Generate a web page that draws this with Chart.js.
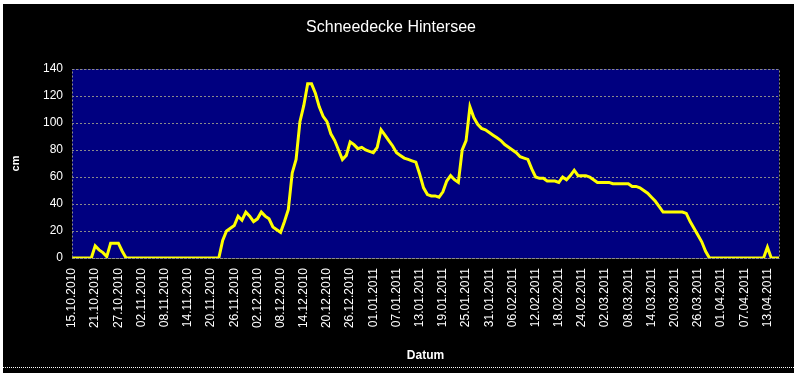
<!DOCTYPE html>
<html>
<head>
<meta charset="utf-8">
<script src="https://cdn.jsdelivr.net/npm/chart.js@4/dist/chart.umd.min.js"></script>
<style>
  html, body { margin: 0; padding: 0; background: #ffffff; width: 794px; height: 373px; overflow: hidden; }
  #frame { position: absolute; left: 3px; top: 4px; width: 791px; height: 369px; background: #000000; }
  #wrap { position: absolute; left: 0; top: 0; width: 791px; height: 364px; }
  #dots { position: absolute; left: 0; top: 363px; width: 791px; height: 0; border-top: 1px dotted #ffffff; }
</style>
</head>
<body>
<div id="frame">
  <div id="wrap"><canvas id="c" width="791" height="364"></canvas></div>
  <div id="dots"></div>
</div>
<script>
// Category axis: daily dates from 15.10.2010 to 16.04.2011
const startDate = { y: 2010, m: 10, d: 15 };
const dayCount = 184;
const tickEvery = 6;

// Snow depth in cm, one value per day
const snowDepth = [
  0, 0, 0, 0, 0, 0, 9, 6, 4, 1,
  11, 11, 11, 5, 0, 0, 0, 0, 0, 0,
  0, 0, 0, 0, 0, 0, 0, 0, 0, 0,
  0, 0, 0, 0, 0, 0, 0, 0, 0, 13,
  20, 22, 24, 31, 28, 34, 31, 27, 29, 34,
  31, 29, 23, 21, 19, 27, 36, 63, 73, 101,
  113, 129, 129, 122, 112, 105, 101, 92, 87, 80,
  73, 76, 86, 84, 81, 82, 80, 79, 78, 82,
  95, 91, 87, 83, 78, 76, 74, 73, 72, 71,
  62, 52, 47, 46, 46, 45, 49, 57, 61, 58,
  56, 80, 87, 112, 104, 99, 96, 95, 93, 91,
  89, 87, 84, 82, 80, 78, 75, 74, 73, 66,
  60, 59, 59, 57, 57, 57, 56, 60, 58, 61,
  65, 61, 61, 61, 60, 58, 56, 56, 56, 56,
  55, 55, 55, 55, 55, 53, 53, 52, 50, 48,
  45, 42, 38, 34, 34, 34, 34, 34, 34, 33,
  27, 22, 17, 12, 5, 0, 0, 0, 0, 0,
  0, 0, 0, 0, 0, 0, 0, 0, 0, 0,
  8, 0, 0, 0
];

const yTicks = { min: 0, max: 140, step: 20 };
const titleText = 'Schneedecke Hintersee';
const xTitle = 'Datum';
const yTitle = 'cm';

function pad2(n) { return (n < 10 ? '0' : '') + n; }
const dateLabels = [];
{
  const dt = new Date(Date.UTC(startDate.y, startDate.m - 1, startDate.d));
  for (let i = 0; i < dayCount; i++) {
    dateLabels.push(pad2(dt.getUTCDate()) + '.' + pad2(dt.getUTCMonth() + 1) + '.' + dt.getUTCFullYear());
    dt.setUTCDate(dt.getUTCDate() + 1);
  }
}

const FONT = "'Liberation Sans', Arial, sans-serif";

const plotBg = {
  id: 'plotBg',
  beforeDatasetsDraw(chart) {
    // nothing, background drawn in beforeDraw
  },
  beforeDraw(chart) {
    const { ctx, chartArea: a } = chart;
    ctx.save();
    ctx.fillStyle = '#000080';
    ctx.fillRect(a.left, a.top, a.right - a.left, a.bottom - a.top);
    ctx.restore();
  },
  afterDatasetsDraw(chart) {
    const { ctx, chartArea: a } = chart;
    ctx.save();
    ctx.strokeStyle = '#8a8a8a';
    ctx.lineWidth = 1;
    ctx.setLineDash([2, 2]);
    ctx.strokeRect(Math.round(a.left) + 0.5, Math.round(a.top) + 0.5, Math.round(a.right - a.left), Math.round(a.bottom - a.top));
    ctx.restore();
  }
};

new Chart(document.getElementById('c'), {
  type: 'line',
  plugins: [plotBg],
  data: {
    labels: dateLabels,
    datasets: [{
      data: snowDepth,
      borderColor: '#ffff00',
      borderWidth: 3,
      pointRadius: 0,
      tension: 0,
      fill: false
    }]
  },
  options: {
    responsive: false,
    animation: false,
    events: [],
    layout: { padding: { top: 0, right: 15, bottom: 0, left: 0 } },
    plugins: {
      legend: { display: false },
      tooltip: { enabled: false },
      title: {
        display: true,
        text: titleText,
        color: '#ffffff',
        font: { family: FONT, size: 16, weight: 'normal' },
        padding: { top: 14, bottom: 31.8 }
      }
    },
    scales: {
      x: {
        type: 'category',
        offset: false,
        grid: { display: false, drawTicks: false },
        border: { display: false },
        ticks: {
          color: '#ffffff',
          font: { family: FONT, size: 12 },
          autoSkip: false,
          maxRotation: 90,
          minRotation: 90,
          padding: 10,
          callback: function (v, i) { return i % tickEvery === 0 ? dateLabels[i] : null; }
        },
        title: {
          display: true,
          text: xTitle,
          color: '#ffffff',
          font: { family: FONT, size: 12, weight: 'bold' },
          padding: { top: 5, bottom: 5 }
        },
        afterFit: function (s) { s.height = 110; }
      },
      y: {
        min: yTicks.min,
        max: yTicks.max,
        grid: {
          color: '#8a8a8a',
          lineWidth: 1,
          drawTicks: false
        },
        border: { display: false, dash: [2, 2] },
        ticks: {
          stepSize: yTicks.step,
          color: '#ffffff',
          font: { family: FONT, size: 12 },
          padding: 9
        },
        title: {
          display: true,
          text: yTitle,
          color: '#ffffff',
          font: { family: FONT, size: 11, weight: 'bold' },
          padding: { top: 6.4, bottom: 6.4 }
        },
        afterFit: function (s) { s.width = 69; }
      }
    }
  }
});
</script>
</body>
</html>
